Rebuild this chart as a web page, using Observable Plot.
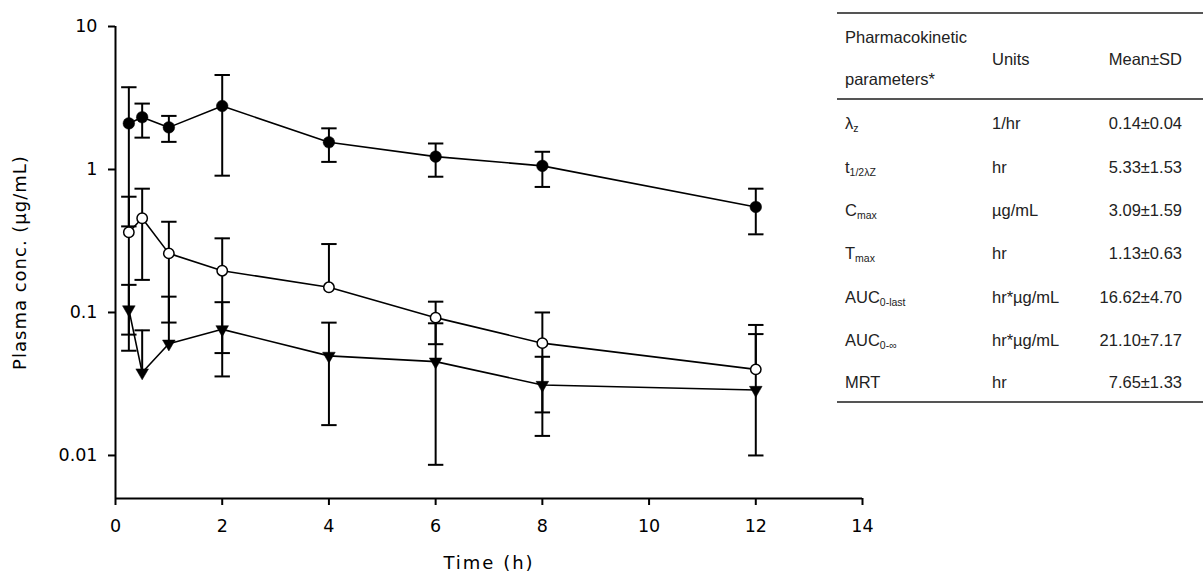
<!DOCTYPE html>
<html><head><meta charset="utf-8">
<script src="https://cdn.jsdelivr.net/npm/d3@7"></script>
<script src="https://cdn.jsdelivr.net/npm/@observablehq/plot@0.6"></script>
<style>
body{margin:0;background:#fff;}
#wrap{position:relative;width:1203px;height:576px;overflow:hidden;}
#tbl{position:absolute;left:0;top:0;width:1203px;height:576px;pointer-events:none;font-family:"Liberation Sans",Arial,sans-serif;font-size:16.5px;color:#222;}
.cell{position:absolute;line-height:20px;height:20px;white-space:nowrap;}
.cell sub{font-size:10.5px;vertical-align:-3px;line-height:0;}
.rule{position:absolute;left:837px;width:366px;height:2px;background:#555;}
</style></head><body><div id="wrap"><div id="chart"></div><div id="tbl"></div></div>
<script>
// ---- data ----
const times = [0.25, 0.5, 1, 2, 4, 6, 8, 12];
const filledMean  = [2.10, 2.32, 1.97, 2.78, 1.55, 1.23, 1.06, 0.547];
const filledUpper = [3.76, 2.89, 2.37, 4.58, 1.94, 1.52, 1.33, 0.734];
const filledLower = [0.40, 1.67, 1.56, 0.905, 1.13, 0.89, 0.755, 0.352];
const openMean  = [0.364, 0.456, 0.259, 0.196, 0.150, 0.092, 0.061, 0.040];
const openUpper = [0.645, 0.734, 0.431, 0.330, 0.301, 0.119, 0.100, 0.0818];
const openLower = [0.070, 0.169, 0.085, 0.052, null, 0.060, 0.020, null];
const triMean  = [0.105, 0.038, 0.0605, 0.0762, 0.0497, 0.0453, 0.0311, 0.0287];
const triUpper = [0.156, 0.075, 0.129, 0.118, 0.0849, 0.084, 0.049, 0.0706];
const triLower = [0.054, null, null, 0.0357, 0.0163, 0.0086, 0.0137, 0.010];
const yTicks = [0.01, 0.1, 1, 10];
const xTicks = [0, 2, 4, 6, 8, 10, 12, 14];
const xTitle = "Time (h)";
const yTitle = "Plasma conc. (µg/mL)";

const paramBase = ["λ", "t", "C", "T", "AUC", "AUC", "MRT"];
const paramSub  = ["z", "1/2λZ", "max", "max", "0-last", "0-∞", ""];
const paramUnits = ["1/hr", "hr", "µg/mL", "hr", "hr*µg/mL", "hr*µg/mL", "hr"];
const paramValues = ["0.14±0.04", "5.33±1.53", "3.09±1.59", "1.13±0.63", "16.62±4.70", "21.10±7.17", "7.65±1.33"];
const headerParam = ["Pharmacokinetic", "parameters*"];
const headerUnits = "Units";
const headerValue = "Mean±SD";

// ---- build rows ----
const rows = [];
function add(series, m, u, l) {
  times.forEach((t, i) => rows.push({series, t, mean: m[i], upper: u[i], lower: l[i]}));
}
add("filled", filledMean, filledUpper, filledLower);
add("open", openMean, openUpper, openLower);
add("tri", triMean, triUpper, triLower);

const capSymbol = {draw(ctx) { ctx.moveTo(-7.7, 0); ctx.lineTo(7.7, 0); }};
const triDown = {draw(ctx, size) {
  const y = Math.sqrt(size / (3 * Math.sqrt(3)));
  ctx.moveTo(0, 2 * y); ctx.lineTo(-Math.sqrt(3) * y, -y); ctx.lineTo(Math.sqrt(3) * y, -y); ctx.closePath();
}};

const tickFont = "DejaVu Sans";
const plot = Plot.plot({
  width: 1203, height: 576,
  marginLeft: 115, marginRight: 341, marginTop: 26, marginBottom: 78,
  style: {fontFamily: tickFont, fontSize: "17.5px", color: "black", background: "white", overflow: "visible"},
  x: {domain: [0, 14]},
  y: {type: "log", domain: [0.005, 10]},
  marks: [
    Plot.ruleX(rows, {x: "t", y1: d => d.lower ?? d.mean, y2: "upper", stroke: "black", strokeWidth: 2}),
    Plot.dot(rows, {x: "t", y: "upper", symbol: capSymbol, stroke: "black", strokeWidth: 2, r: 5}),
    Plot.dot(rows.filter(d => d.lower != null), {x: "t", y: "lower", symbol: capSymbol, stroke: "black", strokeWidth: 2, r: 5}),
    Plot.line(rows, {x: "t", y: "mean", z: "series", stroke: "black", strokeWidth: 1.6}),
    Plot.dot(rows.filter(d => d.series === "filled"), {x: "t", y: "mean", r: 5.8, fill: "black", stroke: "black", strokeWidth: 0.5}),
    Plot.dot(rows.filter(d => d.series === "open"), {x: "t", y: "mean", r: 5.2, fill: "white", stroke: "black", strokeWidth: 1.5}),
    Plot.dot(rows.filter(d => d.series === "tri"), {x: "t", y: "mean", r: 4.7, symbol: triDown, fill: "black", stroke: "black", strokeWidth: 0.5}),
    Plot.ruleY([0.005], {stroke: "black", strokeWidth: 2}),
    Plot.ruleX([0], {stroke: "black", strokeWidth: 2}),
    Plot.axisY({ticks: yTicks, tickFormat: d => String(d), tickSize: 7, tickPadding: 11, strokeWidth: 2, label: null, fontSize: 17.5}),
    Plot.axisX({ticks: xTicks, tickFormat: d => String(d), tickSize: 7, tickPadding: 14, strokeWidth: 2, label: null, fontSize: 17.5}),
    Plot.text([xTitle], {text: d => d, frameAnchor: "bottom", lineAnchor: "middle", dy: 65, fontSize: 18, fill: "black"}),
    Plot.text([yTitle], {text: d => d, frameAnchor: "left", textAnchor: "middle", lineAnchor: "middle", dx: -95, rotate: -90, fontSize: 18, fill: "black"})
  ]
});
document.getElementById("chart").appendChild(plot);
d3.select(plot).selectAll("text").each(function() {
  const t = this.textContent;
  if (t === xTitle) this.setAttribute("letter-spacing", "2px");
  else if (t === yTitle) this.setAttribute("letter-spacing", "1px");
});

// ---- table ----
const tbl = document.getElementById("tbl");
function cell(html, x, yc, align) {
  const d = document.createElement("div");
  d.className = "cell";
  d.innerHTML = html;
  d.style.top = (yc - 10) + "px";
  if (align === "right") { d.style.right = (1203 - x) + "px"; d.style.textAlign = "right"; }
  else d.style.left = x + "px";
  tbl.appendChild(d);
}
function rule(y) { const r = document.createElement("div"); r.className = "rule"; r.style.top = (y - 1) + "px"; tbl.appendChild(r); }
rule(13); rule(99); rule(402);
const col1 = 845, col2 = 992, col3 = 1182;
cell(headerParam[0], col1, 36.5);
cell(headerParam[1], col1, 78.5);
cell(headerUnits, col2, 58.5);
cell(headerValue, col3, 58.5, "right");
const rowY = [123.3, 166.7, 210, 253.3, 296.7, 340, 381.7];
paramBase.forEach((b, i) => {
  cell(b + (paramSub[i] ? "<sub>" + paramSub[i] + "</sub>" : ""), col1, rowY[i]);
  cell(paramUnits[i], col2, rowY[i]);
  cell(paramValues[i], col3, rowY[i], "right");
});
</script></body></html>
